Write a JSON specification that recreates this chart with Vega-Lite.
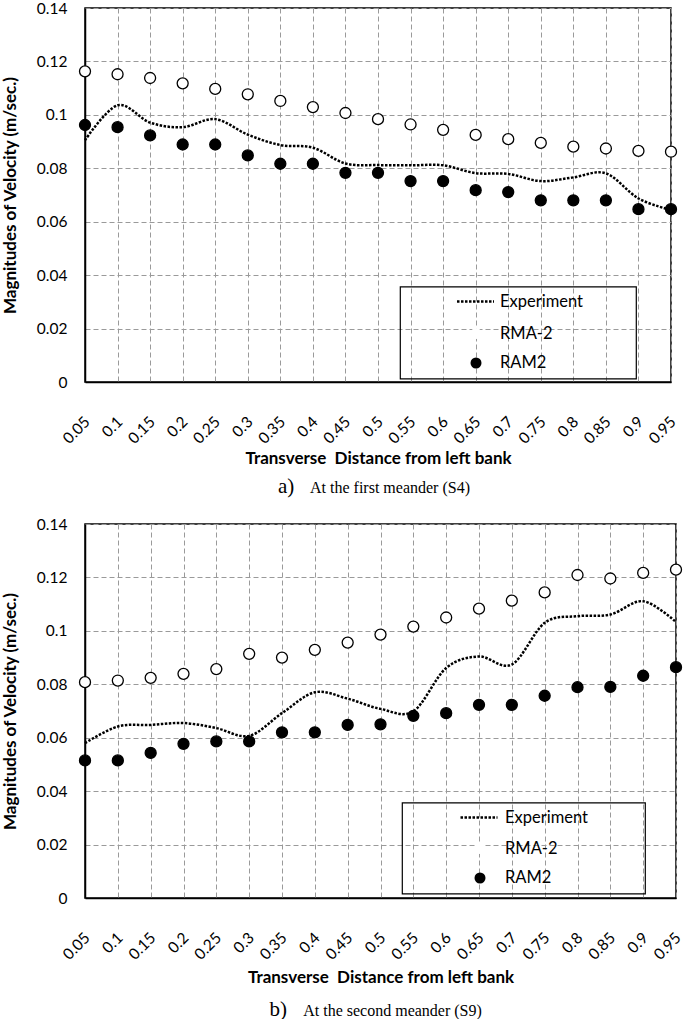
{
  "$schema": "https://vega.github.io/schema/vega-lite/v6.json",
  "padding": {"left": 0, "top": 0, "right": 5, "bottom": 0},
  "background": "white",
  "config": {
    "font": "Lato",
    "view": {"stroke": "black", "strokeWidth": 1.5},
    "axis": {
      "labelFont": "Lato", "labelFontSize": 15.5, "labelColor": "black",
      "titleFont": "Lato", "titleFontSize": 17, "titleFontWeight": "bold", "titleColor": "black",
      "domainColor": "black", "domainWidth": 1.5,
      "gridColor": "#9a9a9a", "gridDash": [5, 3], "gridWidth": 1,
      "ticks": false
    },
    "legend": {"strokeWidth": 1.2, "labelFont": "Lato", "labelFontSize": 16.5, "labelColor": "black", "titleFont": "Lato", "titleFontSize": 16.5},
    "title": {"font": "Liberation Serif", "fontWeight": "normal", "color": "black", "subtitleFont": "Liberation Serif", "subtitleColor": "black"}
  },
  "datasets": {
    "s4": [
      {"x": 0.05, "Experiment": 0.0905, "RMA-2": 0.1163, "RAM2": 0.0962},
      {"x": 0.1, "Experiment": 0.1036, "RMA-2": 0.1152, "RAM2": 0.0954},
      {"x": 0.15, "Experiment": 0.0971, "RMA-2": 0.1138, "RAM2": 0.0923},
      {"x": 0.2, "Experiment": 0.0954, "RMA-2": 0.1118, "RAM2": 0.0889},
      {"x": 0.25, "Experiment": 0.0984, "RMA-2": 0.1097, "RAM2": 0.0889},
      {"x": 0.3, "Experiment": 0.0926, "RMA-2": 0.1077, "RAM2": 0.0848},
      {"x": 0.35, "Experiment": 0.0887, "RMA-2": 0.1052, "RAM2": 0.0817},
      {"x": 0.4, "Experiment": 0.0877, "RMA-2": 0.1029, "RAM2": 0.0817},
      {"x": 0.45, "Experiment": 0.0818, "RMA-2": 0.1007, "RAM2": 0.0783},
      {"x": 0.5, "Experiment": 0.0812, "RMA-2": 0.0984, "RAM2": 0.0783},
      {"x": 0.55, "Experiment": 0.0811, "RMA-2": 0.0964, "RAM2": 0.0752},
      {"x": 0.6, "Experiment": 0.0811, "RMA-2": 0.0944, "RAM2": 0.0752},
      {"x": 0.65, "Experiment": 0.0782, "RMA-2": 0.0925, "RAM2": 0.0718},
      {"x": 0.7, "Experiment": 0.0779, "RMA-2": 0.0909, "RAM2": 0.0711},
      {"x": 0.75, "Experiment": 0.0752, "RMA-2": 0.0895, "RAM2": 0.068},
      {"x": 0.8, "Experiment": 0.0766, "RMA-2": 0.0881, "RAM2": 0.068},
      {"x": 0.85, "Experiment": 0.0781, "RMA-2": 0.0874, "RAM2": 0.068},
      {"x": 0.9, "Experiment": 0.0687, "RMA-2": 0.0865, "RAM2": 0.0647},
      {"x": 0.95, "Experiment": 0.0644, "RMA-2": 0.0862, "RAM2": 0.0647}
    ],
    "s9": [
      {"x": 0.05, "Experiment": 0.058, "RMA-2": 0.0808, "RAM2": 0.0515},
      {"x": 0.1, "Experiment": 0.0642, "RMA-2": 0.0814, "RAM2": 0.0515},
      {"x": 0.15, "Experiment": 0.0648, "RMA-2": 0.0824, "RAM2": 0.0543},
      {"x": 0.2, "Experiment": 0.0655, "RMA-2": 0.0839, "RAM2": 0.0577},
      {"x": 0.25, "Experiment": 0.0636, "RMA-2": 0.0857, "RAM2": 0.0586},
      {"x": 0.3, "Experiment": 0.0607, "RMA-2": 0.0914, "RAM2": 0.0586},
      {"x": 0.35, "Experiment": 0.0692, "RMA-2": 0.09, "RAM2": 0.062},
      {"x": 0.4, "Experiment": 0.077, "RMA-2": 0.0929, "RAM2": 0.062},
      {"x": 0.45, "Experiment": 0.0746, "RMA-2": 0.0956, "RAM2": 0.0648},
      {"x": 0.5, "Experiment": 0.0708, "RMA-2": 0.0986, "RAM2": 0.065},
      {"x": 0.55, "Experiment": 0.0699, "RMA-2": 0.1016, "RAM2": 0.0682},
      {"x": 0.6, "Experiment": 0.0861, "RMA-2": 0.105, "RAM2": 0.0692},
      {"x": 0.65, "Experiment": 0.0904, "RMA-2": 0.1083, "RAM2": 0.0723},
      {"x": 0.7, "Experiment": 0.0874, "RMA-2": 0.1113, "RAM2": 0.0723},
      {"x": 0.75, "Experiment": 0.103, "RMA-2": 0.1144, "RAM2": 0.0757},
      {"x": 0.8, "Experiment": 0.1055, "RMA-2": 0.1209, "RAM2": 0.0789},
      {"x": 0.85, "Experiment": 0.1061, "RMA-2": 0.1196, "RAM2": 0.079},
      {"x": 0.9, "Experiment": 0.1111, "RMA-2": 0.1217, "RAM2": 0.0832},
      {"x": 0.95, "Experiment": 0.1033, "RMA-2": 0.1229, "RAM2": 0.0864}
    ]
  },
  "vconcat": [
    {
      "width": 586, "height": 374,
      "data": {"name": "s4"},
      "title": {"text": "a)\u00a0\u00a0\u00a0\u00a0\u00a0\u00a0\u00a0\u00a0\u00a0\u00a0\u00a0\u00a0\u00a0\u00a0\u00a0\u00a0\u00a0\u00a0\u00a0\u00a0\u00a0\u00a0\u00a0\u00a0\u00a0\u00a0\u00a0\u00a0\u00a0\u00a0\u00a0\u00a0\u00a0\u00a0\u00a0\u200b", "subtitle": "\u200b\u00a0\u00a0\u00a0\u00a0\u00a0\u00a0At the first meander (S4)", "orient": "bottom", "anchor": "middle", "fontSize": 21, "subtitleFontSize": 16, "subtitlePadding": -16.5, "offset": 9, "dx": 0},
      "encoding": {
        "x": {"field": "x", "type": "ordinal", "scale": {"type": "point", "padding": 0}, "axis": {"title": "Transverse\u00a0 Distance from left bank", "labelAngle": -45, "labelPadding": 32, "labelOffset": -3, "titlePadding": 4, "grid": true}},
        "y": {"field": "v", "type": "quantitative", "scale": {"domain": [0, 0.14], "nice": false}, "axis": {"title": "Magnitudes of Velocity (m/sec.)", "values": [0, 0.02, 0.04, 0.06, 0.08, 0.1, 0.12, 0.14], "format": "~g", "labelPadding": 18, "titlePadding": 17, "grid": true}}
      },
      "layer": [
        {
          "transform": [{"fold": ["Experiment"], "as": ["curve", "v"]}],
          "mark": {"type": "line", "interpolate": "cardinal", "strokeWidth": 2.5, "strokeDash": [2.5, 1.5]},
          "encoding": {
            "stroke": {"field": "curve", "type": "nominal", "scale": {"domain": ["Experiment"], "range": ["black"]},
              "legend": {"orient": "none", "legendX": 370.5, "legendY": 273.5, "title": null, "padding": 0, "strokeColor": "transparent", "symbolType": "stroke", "symbolSize": 1369, "symbolStrokeWidth": 2.5, "symbolDash": [2.5, 1.5], "symbolStrokeColor": "black", "labelOffset": 4.5}}
          }
        },
        {
          "transform": [{"fold": ["RMA-2", "RAM2"], "as": ["series", "v"]}],
          "mark": {"type": "point", "filled": false, "color": "black", "stroke": "black", "strokeWidth": 1.3, "size": 121, "opacity": 1},
          "encoding": {
            "fill": {"field": "series", "type": "nominal", "scale": {"domain": ["RMA-2", "RAM2"], "range": ["white", "black"]},
              "legend": {"orient": "none", "legendX": 315, "legendY": 278.5, "title": "\u200b\u00a0\u200b", "titleOrient": "top", "titlePadding": 15.25, "padding": 7, "strokeColor": "black", "rowPadding": 12.5, "symbolSize": 121, "symbolStrokeWidth": 1.3, "symbolStrokeColor": "black", "symbolOffset": 60.75, "labelOffset": 15.75, "labelExpr": "datum.label + '\u00a0\u00a0\u00a0\u00a0\u00a0\u00a0\u00a0\u00a0\u00a0\u00a0\u00a0\u00a0\u00a0\u00a0\u00a0\u00a0\u00a0\u00a0\u200b'",
                "encode": {"symbols": {"update": {"stroke": {"value": "black"}, "strokeWidth": {"value": 1.3}}}}}},
            "shape": {"field": "series", "type": "nominal", "scale": {"domain": ["RMA-2", "RAM2"], "range": ["circle", "circle"]},
              "legend": {"orient": "none", "legendX": 315, "legendY": 278.5, "title": "\u200b\u00a0\u200b", "titleOrient": "top", "titlePadding": 15.25, "padding": 7, "strokeColor": "black", "rowPadding": 12.5, "symbolSize": 121, "symbolStrokeWidth": 1.3, "symbolStrokeColor": "black", "symbolOffset": 60.75, "labelOffset": 15.75, "labelExpr": "datum.label + '\u00a0\u00a0\u00a0\u00a0\u00a0\u00a0\u00a0\u00a0\u00a0\u00a0\u00a0\u00a0\u00a0\u00a0\u00a0\u00a0\u00a0\u00a0\u200b'",
                "encode": {"symbols": {"update": {"stroke": {"value": "black"}, "strokeWidth": {"value": 1.3}}}}}}
          }
        }
      ]
    },
    {
      "width": 591, "height": 374,
      "data": {"name": "s9"},
      "title": {"text": "b)\u00a0\u00a0\u00a0\u00a0\u00a0\u00a0\u00a0\u00a0\u00a0\u00a0\u00a0\u00a0\u00a0\u00a0\u00a0\u00a0\u00a0\u00a0\u00a0\u00a0\u00a0\u00a0\u00a0\u00a0\u00a0\u00a0\u00a0\u00a0\u00a0\u00a0\u00a0\u00a0\u00a0\u00a0\u00a0\u00a0\u00a0\u00a0\u00a0\u200b", "subtitle": "\u200b\u00a0\u00a0\u00a0\u00a0\u00a0\u00a0At the second meander (S9)", "orient": "bottom", "anchor": "middle", "fontSize": 21, "subtitleFontSize": 16, "subtitlePadding": -16.5, "offset": 13, "dx": 0},
      "encoding": {
        "x": {"field": "x", "type": "ordinal", "scale": {"type": "point", "padding": 0}, "axis": {"title": "Transverse\u00a0 Distance from left bank", "labelAngle": -45, "labelPadding": 32, "labelOffset": -3, "titlePadding": 7, "grid": true}},
        "y": {"field": "v", "type": "quantitative", "scale": {"domain": [0, 0.14], "nice": false}, "axis": {"title": "Magnitudes of Velocity (m/sec.)", "values": [0, 0.02, 0.04, 0.06, 0.08, 0.1, 0.12, 0.14], "format": "~g", "labelPadding": 18, "titlePadding": 17, "grid": true}}
      },
      "layer": [
        {
          "transform": [{"fold": ["Experiment"], "as": ["curve", "v"]}],
          "mark": {"type": "line", "interpolate": "cardinal", "strokeWidth": 2.5, "strokeDash": [2.5, 1.5]},
          "encoding": {
            "stroke": {"field": "curve", "type": "nominal", "scale": {"domain": ["Experiment"], "range": ["black"]},
              "legend": {"orient": "none", "legendX": 374, "legendY": 273.5, "title": null, "padding": 0, "strokeColor": "transparent", "symbolType": "stroke", "symbolSize": 1369, "symbolStrokeWidth": 2.5, "symbolDash": [2.5, 1.5], "symbolStrokeColor": "black", "labelOffset": 6}}
          }
        },
        {
          "transform": [{"fold": ["RMA-2", "RAM2"], "as": ["series", "v"]}],
          "mark": {"type": "point", "filled": false, "color": "black", "stroke": "black", "strokeWidth": 1.3, "size": 121, "opacity": 1},
          "encoding": {
            "fill": {"field": "series", "type": "nominal", "scale": {"domain": ["RMA-2", "RAM2"], "range": ["white", "black"]},
              "legend": {"orient": "none", "legendX": 317, "legendY": 278.5, "title": "\u200b\u00a0\u200b", "titleOrient": "top", "titlePadding": 14.25, "padding": 7, "strokeColor": "black", "rowPadding": 12.5, "symbolSize": 121, "symbolStrokeWidth": 1.3, "symbolStrokeColor": "black", "symbolOffset": 62.75, "labelOffset": 16.75, "labelExpr": "datum.label + '\u00a0\u00a0\u00a0\u00a0\u00a0\u00a0\u00a0\u00a0\u00a0\u00a0\u00a0\u00a0\u00a0\u00a0\u00a0\u00a0\u00a0\u00a0\u00a0\u200b'",
                "encode": {"symbols": {"update": {"stroke": {"value": "black"}, "strokeWidth": {"value": 1.3}}}}}},
            "shape": {"field": "series", "type": "nominal", "scale": {"domain": ["RMA-2", "RAM2"], "range": ["circle", "circle"]},
              "legend": {"orient": "none", "legendX": 317, "legendY": 278.5, "title": "\u200b\u00a0\u200b", "titleOrient": "top", "titlePadding": 14.25, "padding": 7, "strokeColor": "black", "rowPadding": 12.5, "symbolSize": 121, "symbolStrokeWidth": 1.3, "symbolStrokeColor": "black", "symbolOffset": 62.75, "labelOffset": 16.75, "labelExpr": "datum.label + '\u00a0\u00a0\u00a0\u00a0\u00a0\u00a0\u00a0\u00a0\u00a0\u00a0\u00a0\u00a0\u00a0\u00a0\u00a0\u00a0\u00a0\u00a0\u00a0\u200b'",
                "encode": {"symbols": {"update": {"stroke": {"value": "black"}, "strokeWidth": {"value": 1.3}}}}}}
          }
        }
      ]
    }
  ],
  "spacing": 18,
  "resolve": {
    "scale": {"fill": "independent", "shape": "independent", "stroke": "independent"},
    "legend": {"fill": "independent", "shape": "independent", "stroke": "independent"}
  }
}
